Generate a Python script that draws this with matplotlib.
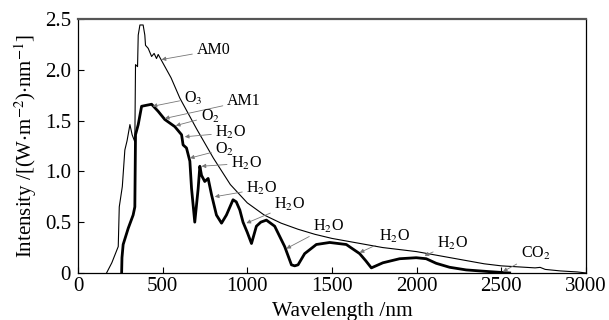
import matplotlib
matplotlib.use("Agg")
import matplotlib.pyplot as plt

plt.rcParams['font.family'] = ['Liberation Serif', 'DejaVu Serif']
plt.rcParams['mathtext.fontset'] = 'stix'

# AM0 spectrum (outside atmosphere), wavelength in nm
am0_wl = [169, 200, 238, 244, 262, 277, 290, 307, 320, 336, 340, 352, 356, 366, 385, 395,
          399, 415, 435, 450, 464, 474, 550, 602, 700, 800, 900, 1000, 1100, 1200, 1300,
          1400, 1500, 1600, 1700, 1800, 1900, 2000, 2100, 2200, 2300, 2400, 2500, 2600,
          2700, 2730, 2760, 2850, 2950, 3000]
am0_val = [0, 0.10, 0.26, 0.65, 0.85, 1.21, 1.30, 1.46, 1.36, 1.29, 2.05, 2.03, 2.34, 2.44,
           2.44, 2.34, 2.24, 2.21, 2.13, 2.16, 2.11, 2.15, 1.92, 1.72, 1.42, 1.13, 0.87,
           0.69, 0.57, 0.49, 0.43, 0.38, 0.34, 0.31, 0.28, 0.25, 0.23, 0.21, 0.18, 0.15,
           0.12, 0.09, 0.07, 0.06, 0.05, 0.055, 0.035, 0.02, 0.01, 0.0]

# AM1 spectrum (at ground level)
am1_wl = [258, 260, 267, 297, 326, 336, 340, 356, 376, 405, 435, 474, 513, 572, 612, 621,
          641, 661, 671, 690, 710, 720, 730, 749, 769, 789, 818, 848, 877, 916, 935, 956,
          975, 1000, 1025, 1054, 1080, 1113, 1162, 1221, 1261, 1280, 1300, 1339, 1408,
          1487, 1585, 1664, 1700, 1733, 1801, 1900, 1998, 2057, 2116, 2195, 2293, 2431, 2550]
am1_val = [0, 0.15, 0.28, 0.44, 0.57, 0.65, 1.36, 1.46, 1.64, 1.65, 1.66, 1.59, 1.51, 1.44,
           1.36, 1.26, 1.23, 1.10, 0.83, 0.50, 0.83, 1.05, 0.96, 0.90, 0.93, 0.77, 0.57,
           0.49, 0.57, 0.72, 0.70, 0.62, 0.50, 0.40, 0.29, 0.46, 0.50, 0.52, 0.46, 0.26,
           0.08, 0.07, 0.08, 0.19, 0.28, 0.30, 0.28, 0.19, 0.12, 0.05, 0.10, 0.14, 0.15,
           0.14, 0.095, 0.056, 0.03, 0.013, 0.0]

# annotations: label, arrow tip (x, y), text position (x, y)
ann_labels = ['AM0', 'O$_3$', 'AM1', 'O$_2$', 'H$_2$O', 'O$_2$', 'H$_2$O', 'H$_2$O',
              'H$_2$O', 'H$_2$O', 'H$_2$O', 'H$_2$O', 'CO$_2$']
ann_tip = [(494, 2.10), (441, 1.64), (513, 1.52), (578, 1.45), (631, 1.34), (661, 1.13),
           (730, 1.05), (808, 0.75), (995, 0.49), (1231, 0.24), (1664, 0.20), (2047, 0.17),
           (2510, 0.013)]
ann_text = [(700, 2.19), (625, 1.72), (880, 1.69), (725, 1.54), (812, 1.38), (812, 1.22),
            (905, 1.08), (995, 0.83), (1160, 0.67), (1390, 0.46), (1780, 0.36), (2122, 0.29),
            (2615, 0.19)]

fig = plt.figure(figsize=(6.09, 3.2), dpi=100)
ax = fig.add_axes([0.128, 0.147, 0.834, 0.794])

ax.plot(am0_wl, am0_val, color='black', lw=0.8)
ax.plot(am1_wl, am1_val, color='black', lw=2.0)

for lab, tip, txt in zip(ann_labels, ann_tip, ann_text):
    ax.annotate(lab, xy=tip, xytext=txt, fontsize=11.5, ha='left', va='center',
                arrowprops=dict(arrowstyle='-|>', color='#777777', lw=0.6,
                                mutation_scale=6, shrinkA=1, shrinkB=0))

ax.set_xlim(0, 3000)
ax.set_ylim(0, 2.5)
ax.set_xticks([0, 500, 1000, 1500, 2000, 2500, 3000])
ax.set_yticks([0, 0.5, 1.0, 1.5, 2.0, 2.5])
ax.set_yticklabels(['0', '0.5', '1.0', '1.5', '2.0', '2.5'])
ax.tick_params(direction='in', length=4, width=0.8, labelsize=15)
ax.tick_params(axis='y', pad=5)
ax.tick_params(axis='x', pad=3)
ax.spines['top'].set_linewidth(1.6)
ax.spines['top'].set_color('#555555')
for s in ['left', 'bottom', 'right']:
    ax.spines[s].set_linewidth(0.9)

ax.set_xlabel('Wavelength /nm', fontsize=15.5)
ax.xaxis.set_label_coords(0.52, -0.115)
ax.set_ylabel('Intensity /[(W$\\cdot$m$^{-2}$)$\\cdot$nm$^{-1}$]', fontsize=15, labelpad=4)

fig.savefig('out.png', dpi=100)
